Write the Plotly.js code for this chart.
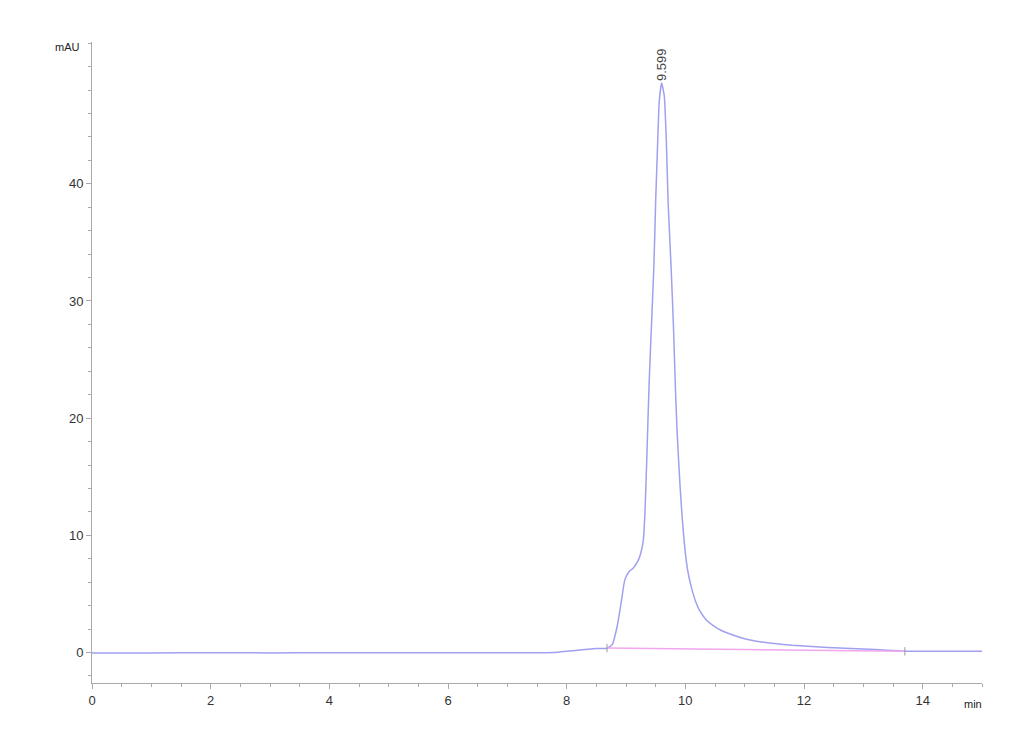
<!DOCTYPE html>
<html>
<head>
<meta charset="utf-8">
<script src="https://cdn.plot.ly/plotly-3.0.1.min.js"></script>
<style>html,body{margin:0;padding:0;background:#fff;}#chart{width:1030px;height:755px;}</style>
</head>
<body>
<div id="chart"></div>
<script>
var timeMin = [0, 1, 2, 3, 4, 5, 6, 7, 7.8, 8.0, 8.3, 8.5, 8.68, 8.77, 8.85, 8.92, 8.98, 9.05, 9.12, 9.20, 9.25, 9.29, 9.32, 9.35, 9.39, 9.43, 9.47, 9.50, 9.53, 9.56, 9.60, 9.645, 9.68, 9.71, 9.76, 9.80, 9.83, 9.86, 9.91, 9.95, 9.99, 10.04, 10.1, 10.17, 10.24, 10.35, 10.47, 10.6, 10.8, 11.0, 11.2, 11.5, 11.8, 12.2, 12.6, 13.0, 13.4, 13.7, 14.0, 15.0];
var signalMAU = [-0.03, -0.03, -0.02, -0.03, -0.02, -0.02, -0.02, -0.01, 0.0, 0.1, 0.25, 0.35, 0.35, 0.7, 2.2, 4.3, 6.2, 6.9, 7.2, 7.8, 8.5, 9.5, 12, 16.5, 23, 28, 33, 38.5, 43, 47, 48.6, 47.5, 43.6, 38.4, 32.9, 27.8, 23, 19, 14.3, 11.3, 9.0, 7.0, 5.6, 4.4, 3.6, 2.8, 2.3, 1.9, 1.5, 1.18, 0.97, 0.77, 0.62, 0.49, 0.39, 0.3, 0.2, 0.12, 0.1, 0.1];
var baselineTime = [8.68, 13.7];
var baselineMAU = [0.38, 0.1];
var peakTime = 9.599;
var peakHeight = 48.6;
var peakLabel = "9.599";
var xTicks = [0, 2, 4, 6, 8, 10, 12, 14];
var yTicks = [0, 10, 20, 30, 40];

var traces = [
  {x: timeMin, y: signalMAU, type: 'scatter', mode: 'lines',
   line: {color: '#a0a0f0', width: 1.5, shape: 'spline', smoothing: 0.5}, hoverinfo: 'skip'},
  {x: baselineTime, y: baselineMAU, type: 'scatter', mode: 'lines+markers',
   line: {color: '#f2a6ee', width: 1.5},
   marker: {symbol: 'line-ns', size: 6, line: {color: '#999', width: 1}}, hoverinfo: 'skip'}
];

var axisFont = {family: 'Liberation Sans, Arial, sans-serif', size: 13, color: '#333'};
var layout = {
  width: 1030, height: 755,
  margin: {l: 92, r: 48, t: 42, b: 72},
  paper_bgcolor: '#fff', plot_bgcolor: '#fff',
  showlegend: false,
  xaxis: {
    range: [0, 15], showgrid: false, zeroline: false,
    showline: true, linecolor: '#aaa', linewidth: 1,
    ticks: 'outside', ticklen: 5, tickcolor: '#aaa',
    tickvals: xTicks, ticktext: xTicks.map(String),
    tickfont: axisFont,
    minor: {dtick: 0.5, ticks: 'outside', ticklen: 3, tickcolor: '#aaa', showgrid: false}
  },
  yaxis: {
    range: [-2.6, 52.1], showgrid: false, zeroline: false,
    showline: true, linecolor: '#aaa', linewidth: 1,
    ticks: 'outside', ticklen: 5, tickcolor: '#aaa',
    tickvals: yTicks, ticktext: yTicks.map(String),
    tickfont: axisFont,
    minor: {dtick: 2, ticks: 'outside', ticklen: 3, tickcolor: '#aaa', showgrid: false}
  },
  annotations: [
    {x: peakTime, y: peakHeight, xref: 'x', yref: 'y', text: peakLabel, textangle: -90,
     showarrow: false, yanchor: 'bottom', xanchor: 'center', yshift: 0,
     font: {family: 'Liberation Sans, Arial, sans-serif', size: 13, color: '#444'}},
    {x: 0, y: 1, xref: 'paper', yref: 'paper', text: 'mAU', showarrow: false,
     xanchor: 'right', yanchor: 'middle', xshift: -10, yshift: -5,
     font: {family: 'Liberation Sans, Arial, sans-serif', size: 11, color: '#222'}},
    {x: 1, y: 0, xref: 'paper', yref: 'paper', text: 'min', showarrow: false,
     xanchor: 'right', yanchor: 'top', xshift: 2, yshift: -13,
     font: {family: 'Liberation Sans, Arial, sans-serif', size: 11, color: '#222'}}
  ]
};
Plotly.newPlot('chart', traces, layout, {displayModeBar: false, staticPlot: true});
</script>
</body>
</html>
